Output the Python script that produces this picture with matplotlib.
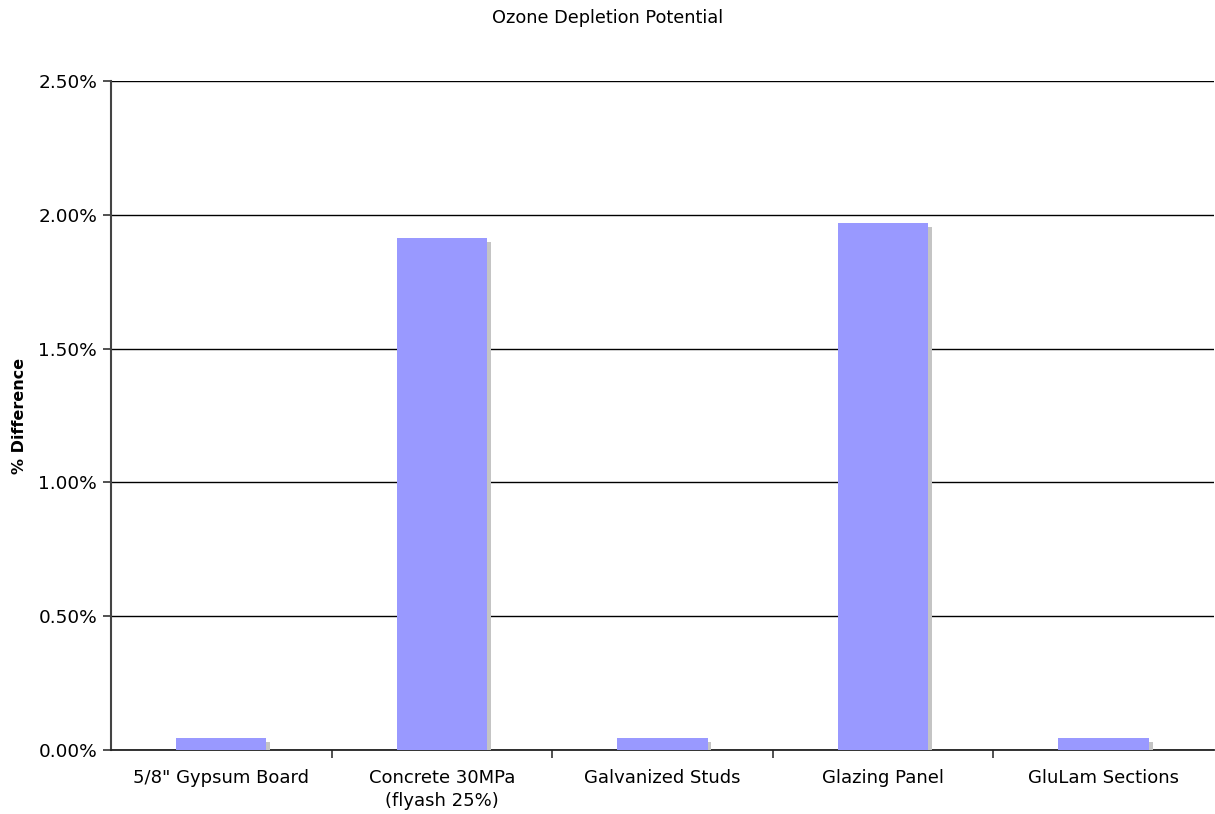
import matplotlib
matplotlib.use("Agg")
import matplotlib.pyplot as plt
from matplotlib import patheffects as pe
from matplotlib.ticker import FuncFormatter, FixedLocator, NullFormatter

categories = ["5/8\" Gypsum Board", "Concrete 30MPa\n(flyash 25%)", "Galvanized Studs",
              "Glazing Panel", "GluLam Sections"]
values = [0.046, 1.913, 0.046, 1.969, 0.046]  # percent difference
y_ticks = [0.0, 0.5, 1.0, 1.5, 2.0, 2.5]

plt.rcParams["font.family"] = ["DejaVu Sans"]

fig = plt.figure(figsize=(12.15, 8.14), dpi=100)
ax = fig.add_axes([111 / 1215, 1 - 750 / 814, 1 - 111 / 1215 - 0.001, (750 - 81) / 814])

x = list(range(len(categories)))
bars = ax.bar(x, values, width=0.41, color="#9999ff", zorder=3)
for b in bars:
    b.set_path_effects([pe.SimplePatchShadow(offset=(2.8, -2.8), shadow_rgbFace="#c4c4c4", alpha=1.0),
                        pe.Normal()])

ax.set_xlim(-0.5, len(categories) - 0.5)
ax.set_ylim(0, 2.5)
ax.set_yticks(y_ticks)
ax.yaxis.set_major_formatter(FuncFormatter(lambda v, p: f"{v:.2f}%"))
ax.yaxis.grid(True, color="black", linewidth=1.0, zorder=1)
ax.set_axisbelow(True)

# category labels centred under bars, tick marks on category boundaries
ax.xaxis.set_major_locator(FixedLocator([i + 0.5 for i in x[:-1]]))
ax.xaxis.set_major_formatter(NullFormatter())
ax.xaxis.set_minor_locator(FixedLocator(x))
ax.set_xticklabels(categories, minor=True, linespacing=1.35)
ax.tick_params(axis="x", which="minor", length=0, labelsize=13, pad=14)
ax.tick_params(axis="x", which="major", length=6, width=1.2, color="#333333", direction="out")
ax.tick_params(axis="y", length=6, width=1.2, color="#333333", labelsize=13.3, pad=4)

for side in ["top", "right"]:
    ax.spines[side].set_visible(False)
ax.spines["left"].set_color("#444444")
ax.spines["left"].set_linewidth(1.5)
ax.spines["bottom"].set_color("#222222")
ax.spines["bottom"].set_linewidth(1.3)

ax.set_ylabel("% Difference", fontsize=11.5, fontweight="bold", labelpad=8)
fig.suptitle("Ozone Depletion Potential", fontsize=12.8, y=0.989)

fig.savefig("out.png", dpi=100)
